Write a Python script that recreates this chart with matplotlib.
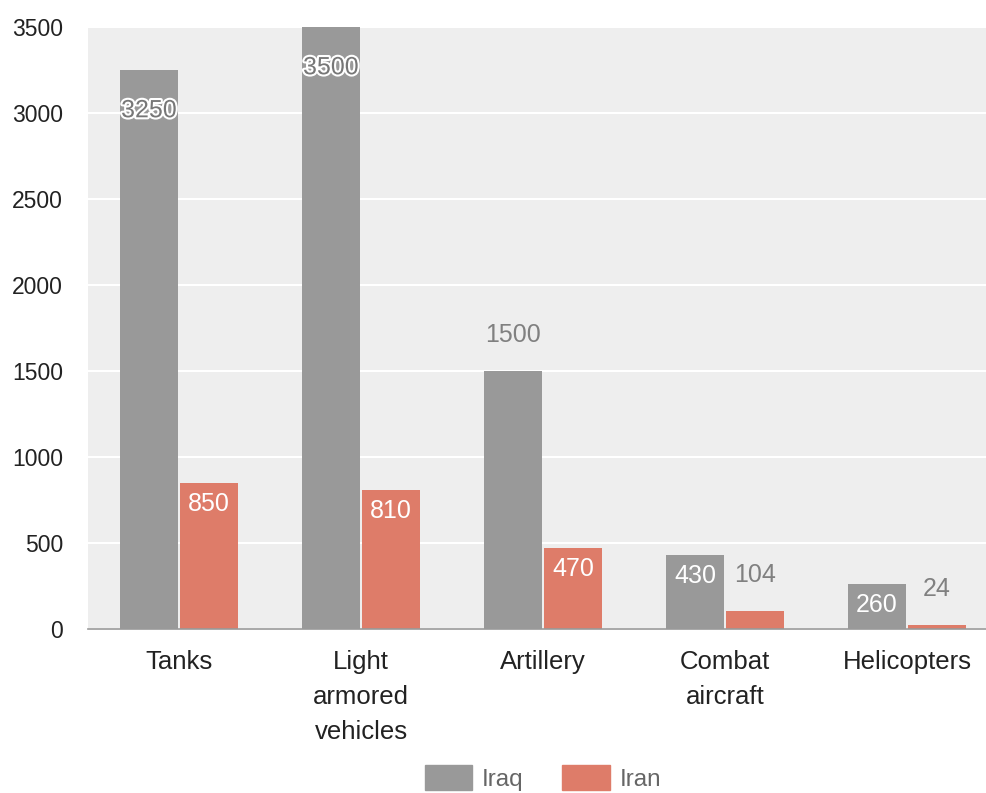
import numpy as np
import matplotlib
matplotlib.use("Agg")
import matplotlib.pyplot as plt
import matplotlib.patheffects as pe
from matplotlib.patches import Patch

categories = ["Tanks", "Light\narmored\nvehicles", "Artillery", "Combat\naircraft", "Helicopters"]
iraq = [3250, 3500, 1500, 430, 260]
iran = [850, 810, 470, 104, 24]
# where each value label sits: "in" inside top, "deep" lower inside with halo, "out" above bar
iraq_label_pos = ["deep", "deep", "out", "in", "in"]
iran_label_pos = ["in", "in", "in", "out", "out"]

IRAQ_C = "#999999"
IRAN_C = "#de7c69"

plt.rcParams["font.family"] = ["Liberation Sans", "DejaVu Sans"]

fig = plt.figure(figsize=(9.86, 7.93), dpi=100)
ax = fig.add_axes([88 / 986, 1 - 629 / 793, 910 / 986, 602 / 793])
ax.set_facecolor("#eeeeee")

x = np.arange(len(categories))
w = 0.32
off = 0.165
ax.bar(x - off, iraq, w, color=IRAQ_C, zorder=2)
ax.bar(x + off, iran, w, color=IRAN_C, zorder=2)

ax.set_xlim(-0.5, len(categories) - 0.5)
ax.set_ylim(0, 3500)
ax.set_yticks(np.arange(0, 3501, 500))
ax.yaxis.grid(True, color="white", linewidth=1.5, zorder=1)
ax.set_axisbelow(True)
for s in ["top", "right", "left"]:
    ax.spines[s].set_visible(False)
ax.spines["bottom"].set_color("#999999")
ax.spines["bottom"].set_linewidth(1.2)
ax.spines["bottom"].set_zorder(3)

ax.tick_params(axis="y", length=0, pad=18, labelsize=16.5, labelcolor="#222222")
ax.tick_params(axis="x", length=0, pad=15, labelsize=18.5, labelcolor="#222222")
ax.set_xticks(x)
ax.set_xticklabels(categories)
for lab in ax.get_xticklabels():
    lab.set_linespacing(1.58)


def put_label(xc, val, mode):
    if mode == "out":
        dy, col, fx = 26, "#808080", None
    elif mode == "deep":
        dy, col = -29, "#777777"
        fx = [pe.withStroke(linewidth=3, foreground="white")]
    else:
        dy, col, fx = -15, "white", None
    t = ax.annotate(str(val), (xc, val), xytext=(0, dy), textcoords="offset points",
                    ha="center", va="center", fontsize=18, color=col, zorder=4)
    if fx:
        t.set_path_effects(fx)


for i in range(len(categories)):
    put_label(x[i] - off, iraq[i], iraq_label_pos[i])
    put_label(x[i] + off, iran[i], iran_label_pos[i])

handles = [Patch(color=IRAQ_C, label="Iraq"), Patch(color=IRAN_C, label="Iran")]
fig.legend(handles=handles, loc="upper center", bbox_to_anchor=(543 / 986, 1 - 765 / 793),
           frameon=False, fontsize=17.5, labelcolor="#666666", handlelength=1.95,
           handleheight=1.2, handletextpad=0.4, columnspacing=1.6, ncol=2,
           borderpad=0, borderaxespad=0)

fig.savefig("out.png", dpi=100)
